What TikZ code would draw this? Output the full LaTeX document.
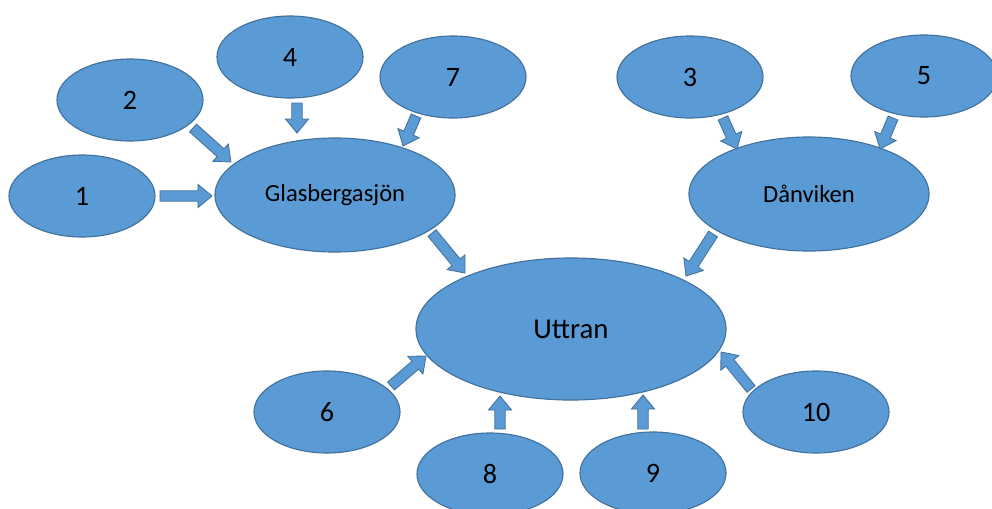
\documentclass[tikz,border=0pt]{standalone}
\usepackage{fontspec}
\setmainfont{Carlito}
\usetikzlibrary{calc,shapes.geometric}
\definecolor{lakefill}{HTML}{5B9BD5}
\definecolor{lakeline}{HTML}{41719C}

% block arrow between two named points
\newcommand{\blockarr}[2]{%
  \coordinate (neck) at ($(#2)!0.35cm!(#1)$);
  \filldraw[barrow] ($(#1)!0.13cm!-90:(#2)$) -- ($(neck)!0.13cm!-90:(#2)$)
    -- ($(neck)!0.29cm!-90:(#2)$) -- (#2) -- ($(neck)!0.29cm!90:(#2)$)
    -- ($(neck)!0.13cm!90:(#2)$) -- ($(#1)!0.13cm!90:(#2)$) -- cycle;}

\begin{document}
\begin{tikzpicture}[
  x=0.025cm, y=-0.025cm,
  lake/.style={ellipse, draw=lakeline, fill=lakefill, line width=0.8pt, inner sep=0pt},
  small/.style={lake, minimum width=3.65cm, minimum height=2.05cm, font=\fontsize{20}{24}\selectfont},
  mid/.style={lake, minimum width=6cm, minimum height=2.85cm, font=\fontsize{17.5}{21}\selectfont},
  barrow/.style={draw=lakeline, fill=lakefill, line width=0.6pt, line join=miter}]
  \useasboundingbox (0,0) rectangle (992,508);
  % lakes
  \node[small] (one) at (82,196) {1};
  \node[small] (two) at (130,100) {2};
  \node[small] (four) at (290,57) {4};
  \node[small] (seven) at (453,77) {7};
  \node[mid] (glas) at (335,195) {Glasbergasjön};
  \node[small] (three) at (690,77) {3};
  \node[small] (five) at (924,76) {5};
  \node[mid] (danv) at (809,194) {Dånviken};
  \node[lake, minimum width=7.75cm, minimum height=3.55cm, font=\fontsize{20.5}{24}\selectfont] (uttran) at (571,329) {Uttran};
  \node[small] (six) at (327,412) {6};
  \node[small] (eight) at (490,474) {8};
  \node[small] (nine) at (653,473) {9};
  \node[small] (ten) at (816,412) {10};
  % arrow ends
  \coordinate (s1) at (160,196); \coordinate (e1) at (212,196);
  \coordinate (s2) at (193,128); \coordinate (e2) at (231,162);
  \coordinate (s4) at (297,103); \coordinate (e4) at (297,133);
  \coordinate (s7) at (416,116); \coordinate (e7) at (403,146);
  \coordinate (sg) at (432,233); \coordinate (eg) at (465,273);
  \coordinate (s3) at (723,118); \coordinate (e3) at (737,149);
  \coordinate (s5) at (893,118); \coordinate (e5) at (880,149);
  \coordinate (sd) at (713,234); \coordinate (ed) at (686,276);
  \coordinate (s6) at (391,386); \coordinate (e6) at (426,356);
  \coordinate (s8) at (500,429); \coordinate (e8) at (500,396);
  \coordinate (s9) at (643,429); \coordinate (e9) at (643,395);
  \coordinate (s10) at (751,389); \coordinate (e10) at (721,352);
  % arrows
  \blockarr{s1}{e1}
  \blockarr{s2}{e2}
  \blockarr{s4}{e4}
  \blockarr{s7}{e7}
  \blockarr{sg}{eg}
  \blockarr{s3}{e3}
  \blockarr{s5}{e5}
  \blockarr{sd}{ed}
  \blockarr{s6}{e6}
  \blockarr{s8}{e8}
  \blockarr{s9}{e9}
  \blockarr{s10}{e10}
\end{tikzpicture}
\end{document}
